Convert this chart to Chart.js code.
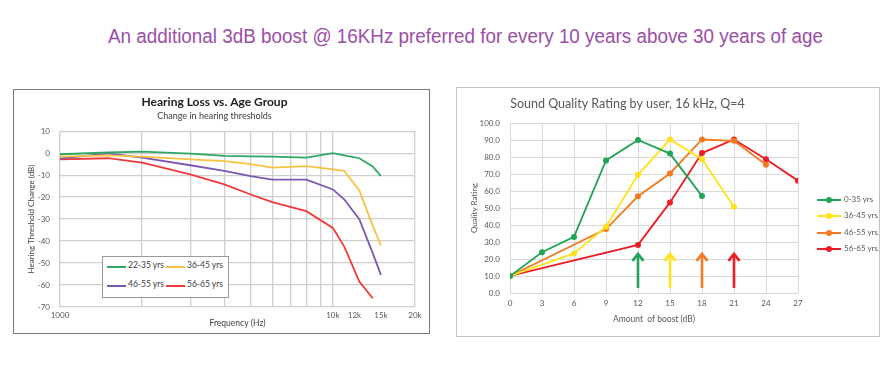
<!DOCTYPE html>
<html>
<head>
<meta charset="utf-8">
<script src="https://cdn.jsdelivr.net/npm/chart.js@4.4.1/dist/chart.umd.min.js"></script>
<style>
  html, body { margin: 0; padding: 0; background: #fff; width: 890px; height: 377px; overflow: hidden; }
  #headline { position: absolute; left: 108px; top: 25px; white-space: nowrap; transform-origin: 0 0;
    font-family: 'Liberation Sans', Arial, sans-serif; font-size: 20px; color: #9b4ea8; }
  .box { position: absolute; background: #fff; box-sizing: border-box; }
  #boxL { left: 13px; top: 89px; width: 417px; height: 245px; border: 1px solid #7a7a7a; }
  #boxR { left: 456px; top: 87px; width: 424px; height: 250px; border: 1px solid #c4c4c4; }
  canvas { display: block; }
  .lg { position: absolute; font-family: Lato, sans-serif; white-space: nowrap; }
  .lg .it { position: absolute; }
  .lg .ln { position: absolute; height: 2px; }
  .lg .dt { position: absolute; width: 6px; height: 6px; border-radius: 50%; }
  .lg .tx { position: absolute; }
  #legL { left: 88px; top: 166px; width: 125px; height: 40px; border: 1px solid #9a9a9a; background: #fff;
    font-size: 8.5px; color: #404040; }
  #legR { left: 360px; top: 104px; width: 60px; height: 70px; font-size: 8px; color: #595959; }
</style>
</head>
<body>
<div id="headline">An additional 3dB boost @ 16KHz preferred for every 10 years above 30 years of age</div>

<div class="box" id="boxL">
  <canvas id="lossChart" width="415" height="243"></canvas>
  <div class="lg" id="legL"></div>
</div>

<div class="box" id="boxR">
  <canvas id="rateChart" width="422" height="248"></canvas>
  <div class="lg" id="legR"></div>
</div>

<script>
// ---- left chart data: hearing loss vs frequency ----
var freqHz    = [1000, 1500, 2000, 3000, 4000, 5000, 6000, 8000, 10000, 11000, 12500, 14000, 15000];
var loss2235  = [-0.5, 0.3, 0.7, -0.2, -1.2, -1.5, -1.6, -2.0, 0.0, -1.0, -2.3, -6.0, -10.4];
var loss3645  = [-1.6, -1.0, -1.6, -2.8, -3.6, -5.0, -6.6, -5.9, -7.4, -8.0, -17.0, -33.0, -42.0];
var loss4655  = [-2.5, -0.1, -2.0, -5.5, -8.1, -10.4, -12.0, -12.0, -16.5, -21.0, -30.0, -45.5, -55.4];
var loss5665  = [-2.8, -2.3, -4.3, -9.7, -14.2, -18.8, -22.3, -26.4, -34.0, -42.4, -58.4, -66.0, null];
var ageLeft   = ['22-35 yrs', '36-45 yrs', '46-55 yrs', '56-65 yrs'];
var freqTicks = [1000, 2000, 3000, 4000, 5000, 6000, 7000, 8000, 9000, 10000, 12000, 15000, 20000];
var freqTickLabels = { 1000: '1000', 10000: '10k', 12000: '12k', 15000: '15k', 20000: '20k' };

// ---- right chart data: quality rating vs boost ----
var boostDb   = [0, 3, 6, 9, 12, 15, 18, 21, 24, 27];
var rate035   = [10, 24, 33, 78, 90, 82, 57, null, null, null];
var rate3645  = [10, null, 23.3, 39, 69.5, 90.3, 78.7, 50.8, null, null];
var rate4655  = [10, null, null, 37.6, 56.9, 70.3, 90.3, 89.5, 75.4, null];
var rate5665  = [10, null, null, null, 28.3, 53.3, 82.3, 90.3, 78.7, 66.1];
var ageRight  = ['0-35 yrs', '36-45 yrs', '46-55 yrs', '56-65 yrs'];
var arrowBoost = [12, 15, 18, 21];
var arrowFrom = 3, arrowTo = 23;

var colL = ['#2ea864', '#f7c242', '#7a58b4', '#f03a3a'];
var colR = ['#22a35a', '#ffe21a', '#f47a22', '#ee1c24'];

Chart.defaults.font.family = 'Lato, sans-serif';
Chart.defaults.color = '#595959';

// fit the headline to the width it has in the picture
(function(){
  var h = document.getElementById('headline');
  var w = h.getBoundingClientRect().width;
  h.style.transform = 'scaleX(' + (715 / w) + ')';
})();

function pts(xs, ys) {
  var out = [];
  xs.forEach(function(x, i){ if (ys[i] !== null) out.push({ x: x, y: ys[i] }); });
  return out;
}

// [1] Hearing loss
new Chart(document.getElementById('lossChart'), {
  type: 'line',
  data: {
    datasets: [loss2235, loss3645, loss4655, loss5665].map(function(s, i){
      return { label: ageLeft[i], data: pts(freqHz, s), borderColor: colL[i], backgroundColor: colL[i],
               borderWidth: 1.8, pointRadius: 0, tension: 0 };
    })
  },
  options: {
    responsive: false, animation: false, events: [],
    layout: { padding: { left: 0, right: 14, top: 0, bottom: 0 } },
    plugins: {
      legend: { display: false },
      tooltip: { enabled: false },
      title: { display: true, text: 'Hearing Loss vs. Age Group', color: '#202020',
               font: { size: 12, weight: 'bold' }, padding: { top: 5, bottom: 1 } },
      subtitle: { display: true, text: 'Change in hearing thresholds', color: '#404040',
                  font: { size: 9 }, padding: { top: 0, bottom: 10 } }
    },
    scales: {
      x: {
        type: 'logarithmic', min: 1000, max: 20000,
        afterBuildTicks: function(s){ s.ticks = freqTicks.map(function(v){ return { value: v }; }); },
        afterFit: function(s){ s.height = 26; },
        grid: { color: function(c){ return (c.tick && (c.tick.value === 12000 || c.tick.value === 15000)) ? 'rgba(0,0,0,0)' : '#cfcfcf'; },
                drawTicks: false, lineWidth: 1.3 },
        border: { display: false },
        ticks: { autoSkip: false, maxRotation: 0, padding: 4, font: { size: 8 },
                 callback: function(v){ return freqTickLabels[v] || ''; } },
        title: { display: true, text: 'Frequency (Hz)', font: { size: 8.5 }, color: '#404040', padding: { top: 0, bottom: 5 } }
      },
      y: {
        min: -70, max: 10,
        afterFit: function(s){ s.width = 46; },
        grid: { color: '#cfcfcf', drawTicks: false, lineWidth: 1.3 },
        border: { display: false },
        ticks: { stepSize: 10, padding: 10, font: { size: 8 } },
        title: { display: true, text: 'Hearing Threshold Change (dB)', font: { size: 8 }, color: '#404040', padding: { top: 13, bottom: 0 } }
      }
    }
  }
});

// arrows under the peaks, drawn on the chart's own scales
var arrowPlugin = {
  id: 'peakArrows',
  afterDatasetsDraw: function(chart){
    var ctx = chart.ctx, sx = chart.scales.x, sy = chart.scales.y;
    arrowBoost.forEach(function(b, i){
      var x = sx.getPixelForValue(b), y0 = sy.getPixelForValue(arrowFrom), y1 = sy.getPixelForValue(arrowTo);
      ctx.save();
      ctx.strokeStyle = colR[i]; ctx.lineWidth = 2.6; ctx.lineCap = 'butt'; ctx.lineJoin = 'miter';
      ctx.beginPath(); ctx.moveTo(x, y0); ctx.lineTo(x, y1 + 1); ctx.stroke();
      ctx.beginPath(); ctx.moveTo(x - 5.5, y1 + 7); ctx.lineTo(x, y1); ctx.lineTo(x + 5.5, y1 + 7); ctx.stroke();
      ctx.restore();
    });
  }
};

// [2] Sound quality rating
new Chart(document.getElementById('rateChart'), {
  type: 'line',
  data: {
    datasets: [rate035, rate3645, rate4655, rate5665].map(function(s, i){
      return { label: ageRight[i], data: pts(boostDb, s), borderColor: colR[i], backgroundColor: colR[i],
               borderWidth: 1.8, pointRadius: 3, pointBorderWidth: 0, tension: 0 };
    })
  },
  plugins: [arrowPlugin],
  options: {
    responsive: false, animation: false, events: [],
    layout: { padding: { left: 0, right: 81, top: 0, bottom: 0 } },
    plugins: {
      legend: { display: false },
      tooltip: { enabled: false },
      title: { display: true, text: 'Sound Quality Rating by user, 16 kHz, Q=4', color: '#595959',
               font: { size: 12.5, weight: 'normal' }, padding: { top: 8, bottom: 12 } }
    },
    scales: {
      x: {
        type: 'linear', min: 0, max: 27,
        afterFit: function(s){ s.height = 43; },
        grid: { color: '#d9d9d9', drawTicks: false },
        border: { display: false },
        ticks: { stepSize: 3, padding: 6, font: { size: 8 } },
        title: { display: true, text: 'Amount  of boost (dB)', font: { size: 8.5 }, padding: { top: 0, bottom: 12 } }
      },
      y: {
        min: 0, max: 100,
        afterFit: function(s){ s.width = 53; },
        grid: { color: '#d9d9d9', drawTicks: false },
        border: { display: false },
        ticks: { stepSize: 10, padding: 10, font: { size: 8 }, callback: function(v){ return v.toFixed(1); } },
        title: { display: true, text: 'Quality Rating', font: { size: 8 }, padding: { top: 13, bottom: 0 } }
      }
    }
  }
});

// legends (HTML)
(function(){
  var L = document.getElementById('legL');
  var posL = [[4, 9], [63, 9], [4, 28], [63, 28]];
  L.innerHTML = ageLeft.map(function(t, i){
    var p = posL[i];
    return '<div class="it" style="left:' + p[0] + 'px;top:' + p[1] + 'px">'
      + '<div class="ln" style="left:0;top:0;width:19px;background:' + colL[i] + '"></div>'
      + '<div class="tx" style="left:21px;top:-6px">' + t + '</div></div>';
  }).join('');

  var R = document.getElementById('legR');
  R.innerHTML = ageRight.map(function(t, i){
    return '<div class="it" style="left:0;top:' + (7 + i * 16.3) + 'px">'
      + '<div class="ln" style="left:0;top:0;width:24px;background:' + colR[i] + '"></div>'
      + '<div class="dt" style="left:9px;top:-2px;background:' + colR[i] + '"></div>'
      + '<div class="tx" style="left:27px;top:-5px">' + t + '</div></div>';
  }).join('');
})();
</script>
</body>
</html>
